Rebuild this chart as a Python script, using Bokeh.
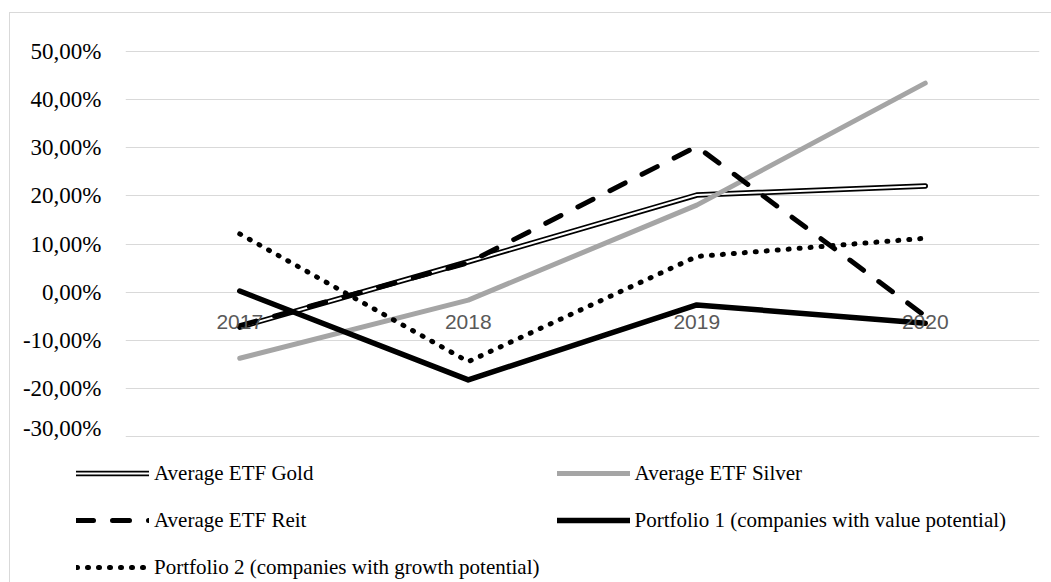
from bokeh.plotting import figure
from bokeh.layouts import column
from bokeh.models import (FactorRange, Range1d, FixedTicker, CustomJSTickFormatter,
                          Legend, LegendItem, ColumnDataSource)
from bokeh.embed import file_html
from bokeh.resources import INLINE

years = ["2017", "2018", "2019", "2020"]
gold = [-7.3, 6.3, 20.2, 22.1]
silver = [-13.8, -1.7, 18.1, 43.5]
reit = [-7.0, 6.1, 30.3, -5.0]
p1 = [0.2, -18.3, -2.7, -6.5]
p2 = [12.1, -14.5, 7.4, 11.2]
y_ticks = [-30, -20, -10, 0, 10, 20, 30, 40, 50]

labels = ["Average ETF Gold", "Average ETF Silver", "Average ETF Reit",
          "Portfolio 1 (companies with value potential)",
          "Portfolio 2 (companies with growth potential)"]

SERIF = "'Liberation Serif', 'Times New Roman', serif"
SANS = "'Liberation Sans', Arial, sans-serif"
BORDER = "1px solid #D9D9D9"

src = ColumnDataSource(dict(x=years, gold=gold, silver=silver, reit=reit, p1=p1, p2=p2))

p = figure(width=1042, height=428, x_range=FactorRange(*years),
           y_range=Range1d(-30.3, 50.3),
           output_backend="svg", toolbar_location=None,
           min_border_left=115, min_border_right=13, min_border_top=37, min_border_bottom=4)
p.frame_align = False
p.styles = {"border-top": BORDER, "border-left": BORDER}
p.outline_line_color = None
p.background_fill_color = "white"
p.border_fill_color = "white"

p.xgrid.grid_line_color = None
p.ygrid.grid_line_color = "#D9D9D9"
p.ygrid.grid_line_width = 1
p.yaxis.ticker = FixedTicker(ticks=y_ticks)
p.yaxis.formatter = CustomJSTickFormatter(code="return tick.toFixed(2).replace('.', ',') + '%';")
p.yaxis.axis_line_color = None
p.yaxis.major_tick_line_color = None
p.yaxis.minor_tick_line_color = None
p.yaxis.major_label_text_font = SERIF
p.yaxis.major_label_text_font_size = "23px"
p.yaxis.major_label_text_color = "#000000"
p.yaxis.major_label_standoff = 18

p.xaxis.fixed_location = 0
p.xaxis.axis_line_color = None
p.xaxis.major_tick_line_color = None
p.xaxis.minor_tick_line_color = None
p.xaxis.major_label_text_font = SANS
p.xaxis.major_label_text_font_size = "21px"
p.xaxis.major_label_text_color = "#595959"
p.xaxis.major_label_standoff = 17


def draw(fig):
    g1 = fig.line("x", "gold", source=src, line_color="black", line_width=5.5, line_cap="round", line_join="round")
    g2 = fig.line("x", "gold", source=src, line_color="white", line_width=2, line_cap="round", line_join="round")
    s = fig.line("x", "silver", source=src, line_color="#A5A5A5", line_width=5, line_cap="round", line_join="round")
    r = fig.line("x", "reit", source=src, line_color="black", line_width=5, line_dash="17 19", line_cap="round", line_join="round")
    a = fig.line("x", "p1", source=src, line_color="black", line_width=5.5, line_cap="round", line_join="round")
    b = fig.line("x", "p2", source=src, line_color="black", line_width=5, line_dash="1 10", line_cap="round", line_join="round")
    return [[g1, g2], [s], [r], [a], [b]]


draw(p)

# legend panel (same series styles, data kept out of its view)
lf = figure(width=1042, height=142, x_range=FactorRange(*years), y_range=Range1d(1000, 1001),
            output_backend="svg", toolbar_location=None,
            x_axis_location=None, y_axis_location=None,
            min_border_left=0, min_border_right=0, min_border_top=0, min_border_bottom=0)
lf.frame_align = False
lf.styles = {"border-left": BORDER}
lf.grid.visible = False
lf.outline_line_color = None
lf.background_fill_color = "white"
lf.border_fill_color = "white"
rends = draw(lf)

legend = Legend(items=[LegendItem(label=lab, renderers=rr) for lab, rr in zip(labels, rends)],
                orientation="horizontal", ncols=2, location=(66, 0))
legend.label_text_font = SERIF
legend.label_text_font_size = "21px"
legend.label_text_color = "#000000"
legend.glyph_width = 73
legend.glyph_height = 30
legend.label_height = 30
legend.label_standoff = 5
legend.spacing = 17
legend.padding = 0
legend.margin = 0
legend.border_line_color = None
legend.background_fill_alpha = 0
lf.add_layout(legend, "center")

layout = column(p, lf, margin=(12, 0, 0, 9), spacing=0)

open("out.html", "w").write(file_html(layout, INLINE))
